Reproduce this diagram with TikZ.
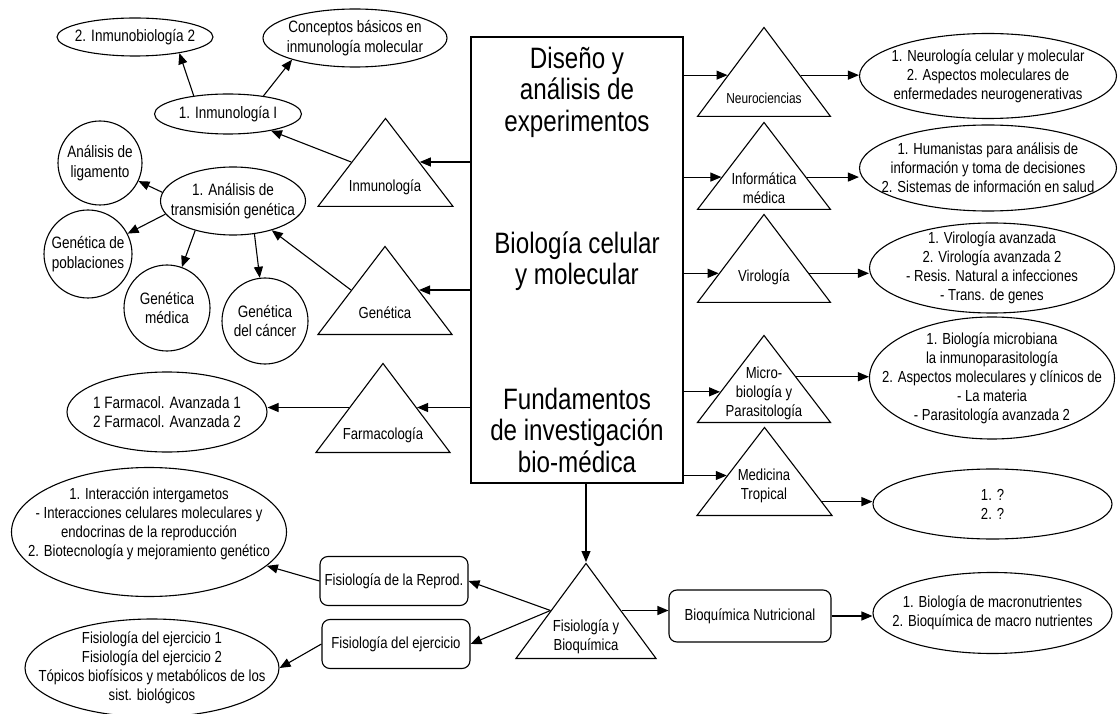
\documentclass[tikz,border=0pt]{standalone}
\usepackage{fontspec}
\setmainfont[FakeStretch=0.82]{Liberation Sans}
\usetikzlibrary{shapes.geometric,arrows.meta,positioning,calc}

\begin{document}
\begin{tikzpicture}[x=1pt,y=-1pt,line width=1.1pt,
    >={Triangle[length=11pt,width=9pt]},
    oval/.style 2 args={draw,ellipse,minimum width=#1,minimum height=#2,inner sep=0pt},
    ring/.style={draw,circle,minimum size=#1,inner sep=0pt},
    box/.style={draw,rounded corners=8pt,minimum width=#1,minimum height=49,inner sep=2pt,
                font=\fontsize{16}{19}\selectfont},
    tri/.style={draw,isosceles triangle,isosceles triangle stretches,shape border rotate=90,
                minimum width=#1,minimum height=88,inner sep=0pt,anchor=lower side},
    big/.style={align=center,font=\fontsize{29.5}{31.5}\selectfont},
    lab/.style={align=center,font=\fontsize{16}{19}\selectfont},
    ltxt/.style={align=center,font=\fontsize{16.5}{19.5}\selectfont},
    rtxt/.style={align=center,font=\fontsize{16}{19}\selectfont}]
\useasboundingbox (0,0) rectangle (1120,714);

% centre
\node[draw,minimum width=212,minimum height=446,inner sep=0pt] (main) at (577,260) {};
\node[big] (dis) at (577,92) {Diseño y\\análisis de\\experimentos};
\node[big] (bio) at (577,261) {Biología celular\\y molecular};
\node[big] (fun) at (577,430) {Fundamentos\\de investigación\\bio-médica};

% left side
\node[tri=135] (inmuT) at (385.5,207) {};
\node[lab] (inmuL) at (385,187) {Inmunología};
\node[oval={147}{40},label={[ltxt]center:1. Inmunología I}] (inmuI) at (228,114) {};
\node[oval={156}{38},label={[ltxt]center:2. Inmunobiología 2}] (inmuB) at (135,37) {};
\node[oval={184}{58},label={[ltxt]center:{Conceptos básicos en\\inmunología molecular}}] (conc) at (355,38) {};

\node[tri=134] (genT) at (385,335) {};
\node[lab] (genL) at (385,313) {Genética};
\node[oval={145}{68},label={[ltxt]center:{1. Análisis de\\transmisión genética}}] (anE) at (233,201) {};
\node[ring=84,label={[ltxt]center:{Análisis de\\ligamento}}] (ligC) at (100,163) {};
\node[ring=88,label={[ltxt]center:{Genética de\\poblaciones}}] (pobC) at (88,254) {};
\node[ring=86,label={[ltxt]center:{Genética\\médica}}] (medC) at (167,308) {};
\node[ring=86,label={[ltxt]center:{Genética\\del cáncer}}] (canC) at (265,321) {};

\node[tri=134,minimum height=89] (farT) at (383,453) {};
\node[lab] (farL) at (383,435) {Farmacología};
\node[oval={200}{80},label={[ltxt]center:{1 Farmacol. Avanzada 1\\2 Farmacol. Avanzada 2}}] (farE) at (167,412) {};

% right side
\node[tri=133,minimum height=89] (neuroT) at (764,117) {};
\node[lab,font=\fontsize{14.5}{19}\selectfont] (neuroL) at (764,98) {Neurociencias};
\node[oval={257}{85},label={[rtxt]center:{1. Neurología celular y molecular\\2. Aspectos moleculares de\\enfermedades neurogenerativas}}] (neuroE) at (988,76) {};

\node[tri=133,minimum height=87] (infT) at (764,210) {};
\node[lab] (infL) at (764,188) {Informática\\médica};
\node[oval={257}{86},label={[rtxt]center:{1. Humanistas para análisis de\\información y toma de decisiones\\2. Sistemas de información en salud}}] (infE) at (988,168) {};

\node[tri=133] (virT) at (764,303) {};
\node[lab] (virL) at (764,277) {Virología};
\node[oval={245}{90},label={[rtxt]center:{1. Virología avanzada\\2. Virología avanzada 2\\- Resis. Natural a infecciones\\- Trans. de genes}}] (virE) at (992,268) {};

\node[tri=133,minimum height=87] (micT) at (764,423) {};
\node[lab] (micL) at (764,393) {Micro-\\biología y\\Parasitología};
\node[oval={245}{122},label={[rtxt]center:{1. Biología microbiana\\la inmunoparasitología\\2. Aspectos moleculares y clínicos de\\- La materia\\- Parasitología avanzada 2}}] (micE) at (992,378) {};

\node[tri=135] (medT) at (764.5,516) {};
\node[lab] (medL) at (764,486) {Medicina\\Tropical};
\node[oval={239}{70},label={[rtxt]center:{1. ?\\2. ?}}] (medE) at (992.5,504) {};

% bottom
\node[tri=140,minimum height=95] (fisT) at (586,659) {};
\node[lab] (fisL) at (586,637) {Fisiología y\\Bioquímica};
\node[box=162,minimum height=52] (bioN) at (750,616) {Bioquímica Nutricional};
\node[oval={239}{81},label={[rtxt]center:{1. Biología de macronutrientes\\2. Bioquímica de macro nutrientes}}] (bioE) at (992.5,613) {};
\node[box=148] (repB) at (394,581) {Fisiología de la Reprod.};
\node[box=148] (ejeB) at (396,644) {Fisiología del ejercicio};
\node[oval={275}{129},label={[rtxt,yshift=8]center:{1. Interacción intergametos\\- Interacciones celulares moleculares y\\endocrinas de la reproducción\\2. Biotecnología y mejoramiento genético}}] (repE) at (149,532) {};
\node[oval={254}{98},label={[rtxt]center:{Fisiología del ejercicio 1\\Fisiología del ejercicio 2\\Tópicos biofísicos y metabólicos de los\\sist. biológicos}}] (ejeE) at (152,668) {};

% arrows, left
\draw[->] (main.west |- inmuT.right side) -- (inmuT.right side);
\draw[->] (inmuT.left side) -- (inmuI);
\draw[->] (inmuI.152) -- (inmuB.-20);
\draw[->] (inmuI.27) -- (conc.199);
\draw[->] (main.west |- genT.right side) -- (genT.right side);
\draw[->] (genT.left side) -- (anE);
\draw[->] (anE.173) -- (ligC);
\draw[->] (anE.191) -- (pobC);
\draw[->] (anE.218) -- (medC);
\draw[->] (anE.-57) -- (canC);
\draw[->] (main.west |- farT.right side) -- (farT.right side);
\draw[->] (farT.left side) -- (farT.left side -| farE.east);

% arrows, right
\coordinate (neuroA) at ($(neuroT.left corner)!.46!(neuroT.apex)$);
\coordinate (neuroB) at ($(neuroT.right corner)!.46!(neuroT.apex)$);
\draw[->] (main.east |- neuroA) -- (neuroA);
\draw[->] (neuroB) -- (neuroB -| neuroE.west);
\coordinate (infA) at ($(infT.left corner)!.37!(infT.apex)$);
\coordinate (infB) at ($(infT.right corner)!.37!(infT.apex)$);
\draw[->] (main.east |- infA) -- (infA);
\draw[->] (infB) -- (infB -| infE.west);
\coordinate (virA) at ($(virT.left corner)!.33!(virT.apex)$);
\coordinate (virB) at ($(virT.right corner)!.33!(virT.apex)$);
\draw[->] (main.east |- virA) -- (virA);
\draw[->] (virB) -- (virB -| virE.west);
\coordinate (micA) at ($(micT.left corner)!.35!(micT.apex)$);
\coordinate (micB) at ($(micT.right corner)!.52!(micT.apex)$);
\draw[->] (main.east |- micA) -- (micA);
\draw[->] (micB) -- (micB -| micE.west);
\coordinate (medA) at ($(medT.left corner)!.45!(medT.apex)$);
\coordinate (medB) at ($(medT.right corner)!.16!(medT.apex)$);
\draw[->] (main.east |- medA) -- (medA);
\draw[->] (medB) -- (medB -| medE.west);

% arrows, bottom
\draw[->] (main.south -| fisT.apex) -- (fisT.apex);
\draw[->] (fisT.right side) -- (fisT.right side -| bioN.west);
\draw[->] (bioN.east) -- (bioN.east -| bioE.west);
\draw[->] (fisT.left side) -- (repB.east);
\draw[->] (fisT.left side) -- (ejeB.east);
\draw[->] (repB.west) -- (repE);
\draw[->] (ejeB.west) -- (ejeE.east);
\end{tikzpicture}
\end{document}
